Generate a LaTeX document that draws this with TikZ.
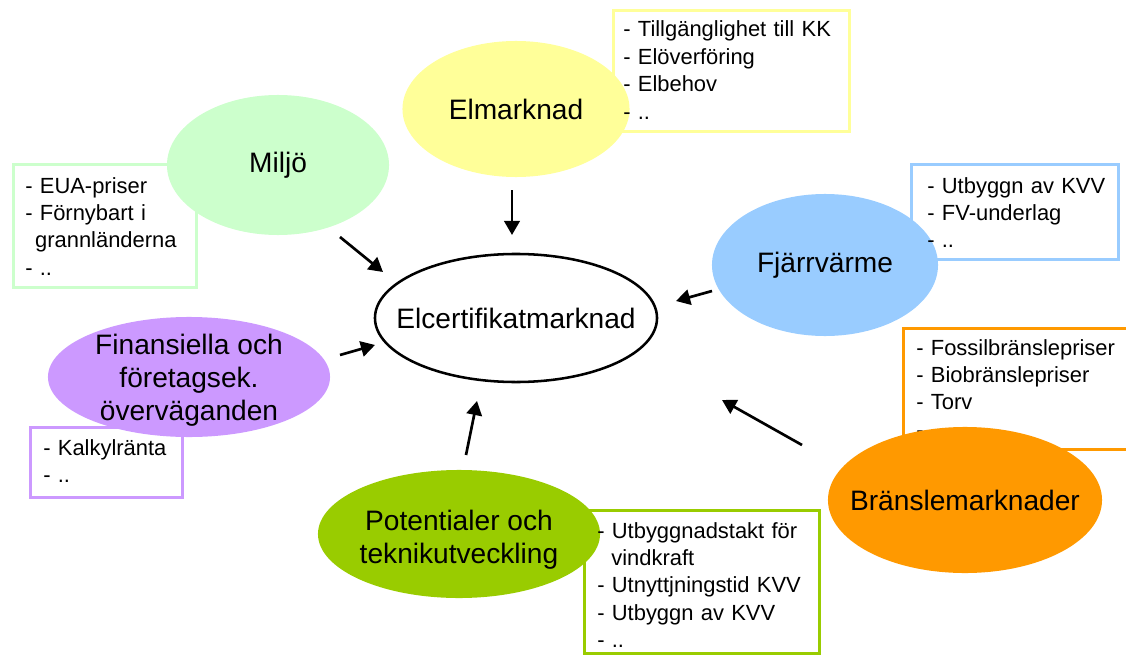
\documentclass[tikz,border=0pt]{standalone}
\usepackage{fontspec}
\setmainfont{Liberation Sans}
\usetikzlibrary{shapes.geometric,arrows.meta}
\definecolor{elmYellow}{HTML}{FFFF99}
\definecolor{miljoGreen}{HTML}{CCFFCC}
\definecolor{fjvBlue}{HTML}{99CCFF}
\definecolor{finPurple}{HTML}{CC99FF}
\definecolor{potGreen}{HTML}{99CC00}
\definecolor{branOrange}{HTML}{FF9900}
\begin{document}
\begin{tikzpicture}[x=0.025cm,y=-0.025cm,
  bubble/.style={ellipse,fill=#1,inner sep=0pt},
  listbox/.style={draw=#1,fill=white,line width=2pt,anchor=north west,inner sep=0pt},
  listtext/.style={anchor=base west,inner sep=0pt,text width=6cm,align=left,
    font=\fontsize{15.6}{19.5}\selectfont},
  bigtext/.style={inner sep=0pt,align=center,font=\fontsize{20}{23.5}\selectfont},
  pointer/.style={line width=1.9pt,-{Triangle[length=10pt,width=11pt]}}]
\useasboundingbox (0,0) rectangle (1126,657);

  % boxes
  \node[listbox=elmYellow,minimum width=5.9cm,minimum height=3.025cm] (elmBox) at (612,9) {};
  \node[listbox=miljoGreen,minimum width=4.575cm,minimum height=3.075cm] (miljoBox) at (12,163) {};
  \node[listbox=fjvBlue,minimum width=5.175cm,minimum height=2.375cm] (fjvBox) at (910,163) {};
  \node[listbox=branOrange,minimum width=5.75cm,minimum height=3.025cm] (branBox) at (902,327) {};
  \node[listbox=finPurple,minimum width=3.8cm,minimum height=1.75cm] (finBox) at (29,426) {};
  \node[listbox=potGreen,minimum width=5.875cm,minimum height=3.575cm] (potBox) at (583,509) {};

  \node[listtext] (branList) at (916,355)
    {- Fossilbränslepriser\\- Biobränslepriser\\- Torv\\- ..};

  % bubbles
  \node[bubble=white,draw=black,line width=1.8pt,minimum width=7.05cm,minimum height=3.2cm,
    label={[bigtext]center:Elcertifikatmarknad}] (elc) at (516,318) {};
  \node[bubble=elmYellow,minimum width=5.675cm,minimum height=3.4cm,
    label={[bigtext]center:Elmarknad}] (elm) at (516,109) {};
  \node[bubble=miljoGreen,minimum width=5.55cm,minimum height=3.5cm,
    label={[bigtext]center:Miljö}] (miljo) at (278,165) {};
  \node[bubble=fjvBlue,minimum width=5.65cm,minimum height=3.55cm,
    label={[bigtext]center:Fjärrvärme}] (fjv) at (825,265) {};
  \node[bubble=branOrange,minimum width=6.85cm,minimum height=3.65cm,
    label={[bigtext]center:Bränslemarknader}] (bran) at (965,500) {};
  \node[bubble=finPurple,minimum width=7.05cm,minimum height=3cm,
    label={[bigtext,yshift=-2pt]center:{Finansiella och\\företagsek.\\överväganden}}] (fin) at (189,377) {};
  \node[bubble=potGreen,minimum width=7.05cm,minimum height=3.2cm,
    label={[bigtext,yshift=-4pt]center:{Potentialer och\\teknikutveckling}}] (pot) at (459,534) {};

  % lists
  \node[listtext] (elmList) at (623,37)
    {- Tillgänglighet till KK\\- Elöverföring\\- Elbehov\\- ..};
  \node[listtext] (miljoList) at (25,193)
    {- EUA-priser\\- Förnybart i\\\hspace*{7pt}grannländerna\\- ..};
  \node[listtext] (fjvList) at (927,193)
    {- Utbyggn av KVV\\- FV-underlag\\- ..};
  \node[listtext] (finList) at (43,455)
    {- Kalkylränta\\- ..};
  \node[listtext] (potList) at (597,538)
    {- Utbyggnadstakt för\\\hspace*{10pt}vindkraft\\- Utnyttjningstid KVV\\- Utbyggn av KVV\\- ..};

  % arrows
  \coordinate (elmOut) at (512,190);
  \coordinate (elmIn) at (512,235);
  \coordinate (miljoOut) at (340,237);
  \coordinate (miljoIn) at (383,272);
  \coordinate (fjvOut) at (712,291);
  \coordinate (fjvIn) at (676,301);
  \coordinate (finOut) at (340,355);
  \coordinate (finIn) at (375,345);
  \coordinate (potOut) at (466,455);
  \coordinate (potIn) at (477,401);
  \coordinate (branOut) at (802,445);
  \coordinate (branIn) at (722,400);
  \draw[pointer] (elmOut) -- (elmIn);
  \draw[pointer] (miljoOut) -- (miljoIn);
  \draw[pointer] (fjvOut) -- (fjvIn);
  \draw[pointer] (finOut) -- (finIn);
  \draw[pointer] (potOut) -- (potIn);
  \draw[pointer] (branOut) -- (branIn);

\end{tikzpicture}
\end{document}
